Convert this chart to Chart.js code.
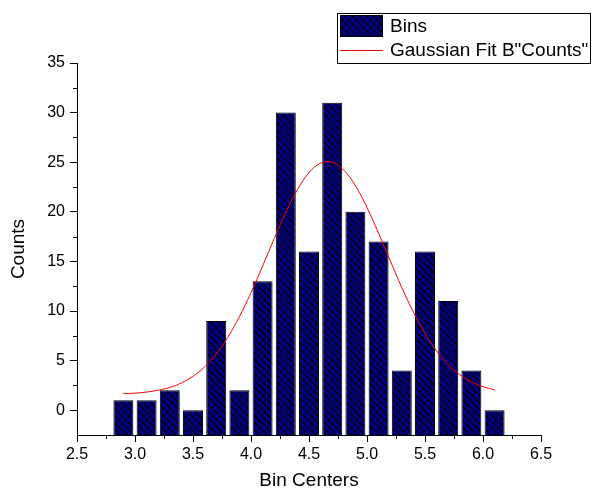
<!DOCTYPE html>
<html>
<head>
<meta charset="utf-8">
<script src="https://cdn.jsdelivr.net/npm/chart.js@4"></script>
<style>
html,body{margin:0;padding:0;background:#fff;}
canvas{display:block;}
</style>
</head>
<body>
<canvas id="c" width="592" height="492"></canvas>
<script>
// ---- data ----
const binCenters = [2.9,3.1,3.3,3.5,3.7,3.9,4.1,4.3,4.5,4.7,4.9,5.1,5.3,5.5,5.7,5.9,6.1];
const binCounts  = [1,1,2,0,9,2,13,30,16,31,20,17,4,16,11,4,0];
const fitX = [2.9,3.0,3.1,3.2,3.3,3.4,3.5,3.6,3.7,3.8,3.9,4.0,4.1,4.2,4.3,4.4,4.5,4.6,4.7,4.8,4.9,5.0,5.1,5.2,5.3,5.4,5.5,5.6,5.7,5.8,5.9,6.0,6.1];
const fitY = [1.67,1.72,1.83,2.01,2.30,2.75,3.42,4.37,5.67,7.35,9.43,11.85,14.53,17.29,19.94,22.23,23.95,24.90,24.99,24.20,22.63,20.43,17.84,15.08,12.37,9.89,7.74,5.98,4.60,3.59,2.86,2.37,2.06];
const xTickLabels = ["2.5","3.0","3.5","4.0","4.5","5.0","5.5","6.0","6.5"];
const yTickValues = [0,5,10,15,20,25,30,35];
const X_MIN = 2.5, X_MAX = 6.5, Y_MIN = -2.5, Y_MAX = 35;
const X_MINOR = [2.75,3.25,3.75,4.25,4.75,5.25,5.75,6.25];
const Y_MINOR = [2.5,7.5,12.5,17.5,22.5,27.5,32.5];
const seriesNames = ["Bins", "Gaussian Fit B\"Counts\""];

const FONT = "'Liberation Sans', Arial, sans-serif";

// hatch pattern
function makePattern(){
  const s = 7;
  const pc = document.createElement('canvas');
  pc.width = s; pc.height = s;
  const p = pc.getContext('2d');
  p.fillStyle = '#000080';
  p.fillRect(0,0,s,s);
  p.strokeStyle = '#000';
  p.lineWidth = 1.3;
  p.beginPath();
  p.moveTo(-1,-1); p.lineTo(s+1,s+1);
  p.moveTo(-1,s-1); p.lineTo(1,s+1);
  p.moveTo(s-1,-1); p.lineTo(s+1,1);
  p.stroke();
  return p.createPattern(pc,'repeat');
}
const ctx0 = document.getElementById('c').getContext('2d');
const hatch = makePattern(ctx0);

const minorTicks = {
  id:'minorTicks',
  afterDraw(chart){
    const c = chart.ctx, xs = chart.scales.x, ys = chart.scales.y;
    c.save();
    c.strokeStyle = '#000'; c.lineWidth = 1;
    c.beginPath();
    X_MINOR.forEach(v=>{
      const px = Math.round(xs.getPixelForValue(v))+0.5;
      c.moveTo(px, ys.bottom); c.lineTo(px, ys.bottom+4);
    });
    Y_MINOR.forEach(v=>{
      const py = Math.round(ys.getPixelForValue(v))+0.5;
      c.moveTo(xs.left, py); c.lineTo(xs.left-4, py);
    });
    c.stroke();
    c.restore();
  }
};

const legendBox = {
  id:'legendBox',
  afterDraw(chart){
    const c = chart.ctx;
    c.save();
    c.fillStyle = '#fff';
    c.fillRect(337,13,254,50);
    c.strokeStyle = '#000'; c.lineWidth = 1;
    c.strokeRect(337.5,13.5,253,50);
    // bins patch
    c.fillStyle = hatch;
    c.fillRect(340,15,43,22);
    c.strokeStyle = '#000';
    c.strokeRect(340.5,15.5,42,21);
    // line
    c.strokeStyle = '#ff0000';
    c.beginPath(); c.moveTo(340,50.5); c.lineTo(383,50.5); c.stroke();
    c.fillStyle = '#000';
    c.font = "19px " + FONT;
    c.textBaseline = 'middle';
    c.textAlign = 'left';
    c.fillText(seriesNames[0], 390, 27);
    c.fillText(seriesNames[1], 390, 51);
    c.restore();
  }
};

new Chart(ctx0, {
  data: {
    datasets: [
      {
        type:'line',
        label: seriesNames[1],
        data: fitX.map((x,i)=>({x:x, y:fitY[i]})),
        borderColor:'#ff0000',
        borderWidth:1,
        pointRadius:0,
        tension:0.4,
        fill:false,
        order:0
      },
      {
        type:'bar',
        label: seriesNames[0],
        data: binCenters.map((x,i)=>({x:x, y:binCounts[i]})),
        backgroundColor: hatch,
        borderColor:'#000',
        borderWidth:1,
        base: Y_MIN,
        barPercentage:0.86,
        categoryPercentage:1,
        order:1
      }
    ]
  },
  options: {
    responsive:false,
    animation:false,
    devicePixelRatio:1,
    layout:{padding:{left:0, top:63, right:51, bottom:0}},
    plugins:{legend:{display:false}, tooltip:{enabled:false}},
    scales:{
      x:{
        type:'linear',
        min:X_MIN, max:X_MAX,
        offset:false,
        grid:{display:true, drawOnChartArea:false, drawTicks:true, tickLength:7, color:'#000', offset:false},
        border:{display:true, color:'#000', width:1},
        ticks:{
          stepSize:0.5,
          color:'#000',
          font:{family:FONT, size:16},
          padding:3,
          maxRotation:0,
          callback:(v,i)=>xTickLabels[i]
        },
        afterBuildTicks:(s)=>{ s.ticks = xTickLabels.map(t=>({value:parseFloat(t)})); },
        afterFit:(s)=>{ s.height = 57; },
        title:{display:true, text:'Bin Centers', color:'#000', font:{family:FONT, size:19}, padding:{top:0,bottom:0}}
      },
      y:{
        type:'linear',
        min:Y_MIN, max:Y_MAX,
        grid:{display:true, drawOnChartArea:false, drawTicks:true, tickLength:7, color:'#000'},
        border:{display:true, color:'#000', width:1},
        ticks:{
          color:'#000',
          font:{family:FONT, size:16},
          padding:5
        },
        afterBuildTicks:(s)=>{ s.ticks = yTickValues.map(v=>({value:v})); },
        afterFit:(s)=>{ s.width = 77; },
        title:{display:true, text:'Counts', color:'#000', font:{family:FONT, size:19}, padding:{top:7,bottom:0}}
      }
    }
  },
  plugins:[minorTicks, legendBox]
});
</script>
</body>
</html>
